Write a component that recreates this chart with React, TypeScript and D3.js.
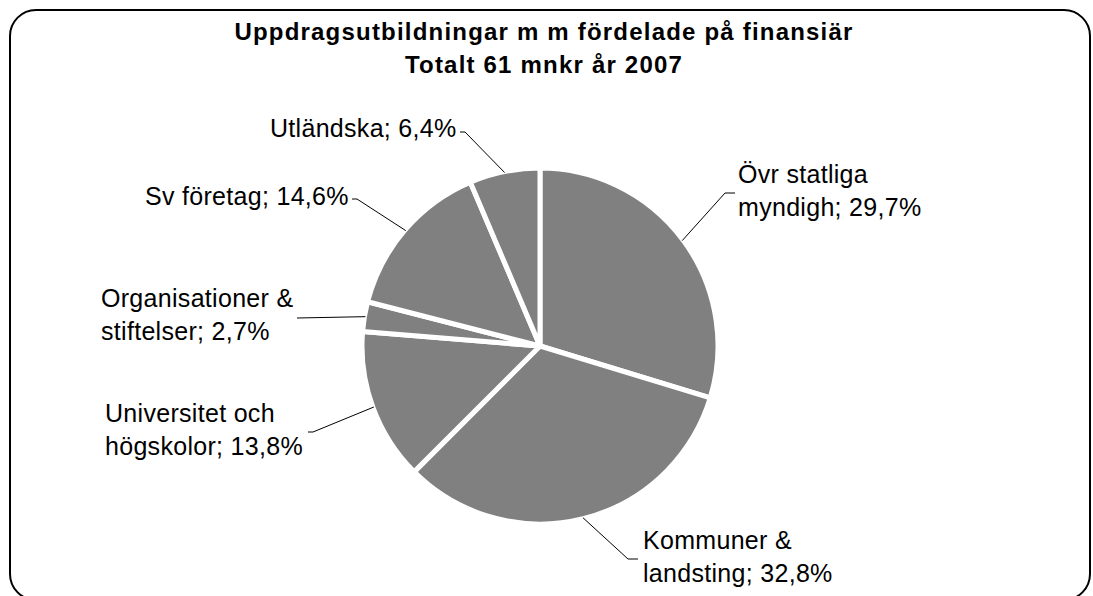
import React from "react";
import * as d3 from "d3";

const categories = [
  "Övr statliga myndigh",
  "Kommuner & landsting",
  "Universitet och högskolor",
  "Organisationer & stiftelser",
  "Sv företag",
  "Utländska",
];
const shares = [29.7, 32.8, 13.8, 2.7, 14.6, 6.4];

const titleLines = [
  "Uppdragsutbildningar m m fördelade på finansiär",
  "Totalt 61 mnkr år 2007",
];

// label placement (text start x, first baseline y, words on first line, elbow of leader)
const labelLayout = [
  { x: 738, y: 183, wrap: 2, elbow: [725, 193], end: 735 },
  { x: 643, y: 549, wrap: 2, elbow: [628, 559], end: 638 },
  { x: 105, y: 422, wrap: 2, elbow: [313, 432], end: 308 },
  { x: 101, y: 307, wrap: 2, elbow: [297, 318], end: 297 },
  { x: 145, y: 205, wrap: 0, elbow: [357, 199], end: 352 },
  { x: 270, y: 137, wrap: 0, elbow: [465, 132], end: 460 },
];

const width = 1093;
const height = 596;
const cx = 540;
const cy = 346;
const radius = 178;
const font = "'Liberation Sans', Arial, sans-serif";

const fmt = (v: number) => d3.format(".1f")(v).replace(".", ",") + "%";

const App = () => {
  const pie = d3
    .pie<number>()
    .sort(null)
    .value((d) => d)(shares);

  const arc = d3.arc<d3.PieArcDatum<number>>().innerRadius(0).outerRadius(radius);

  const edge = (a: number, r: number) => [
    cx + r * Math.sin(a),
    cy - r * Math.cos(a),
  ];

  return (
    <svg
      width={width}
      height={height}
      style={{ position: "absolute", left: 0, top: 0, background: "#fff" }}
      fontFamily={font}
    >
      <rect
        x={10}
        y={10}
        width={1080}
        height={590}
        rx={26}
        ry={26}
        fill="#fff"
        stroke="#000"
        strokeWidth={2}
      />
      {titleLines.map((t, i) => (
        <text
          key={t}
          x={544}
          y={40 + i * 33}
          textAnchor="middle"
          fontWeight="bold"
          fontSize={24}
          letterSpacing={1.2}
        >
          {t}
        </text>
      ))}
      <g transform={`translate(${cx},${cy})`}>
        {pie.map((d, i) => (
          <path
            key={categories[i]}
            d={arc(d) as string}
            fill="#808080"
            stroke="#fff"
            strokeWidth={5}
            strokeLinejoin="round"
          />
        ))}
      </g>
      {pie.map((d, i) => {
        const L = labelLayout[i];
        const mid = (d.startAngle + d.endAngle) / 2;
        const p0 = edge(mid, radius - 1);
        const words = categories[i].split(" ");
        const lines =
          L.wrap > 0
            ? [
                words.slice(0, L.wrap).join(" "),
                words.slice(L.wrap).join(" ") + "; " + fmt(shares[i]),
              ]
            : [categories[i] + "; " + fmt(shares[i])];
        return (
          <g key={categories[i]}>
            <polyline
              points={`${p0[0]},${p0[1]} ${L.elbow[0]},${L.elbow[1]} ${L.end},${L.elbow[1]}`}
              fill="none"
              stroke="#000"
              strokeWidth={1}
            />
            {lines.map((ln, j) => (
              <text
                key={j}
                x={L.x}
                y={L.y + j * 33}
                fontSize={25}
                letterSpacing={0.3}
                fill="#000"
              >
                {ln}
              </text>
            ))}
          </g>
        );
      })}
    </svg>
  );
};

export default App;
